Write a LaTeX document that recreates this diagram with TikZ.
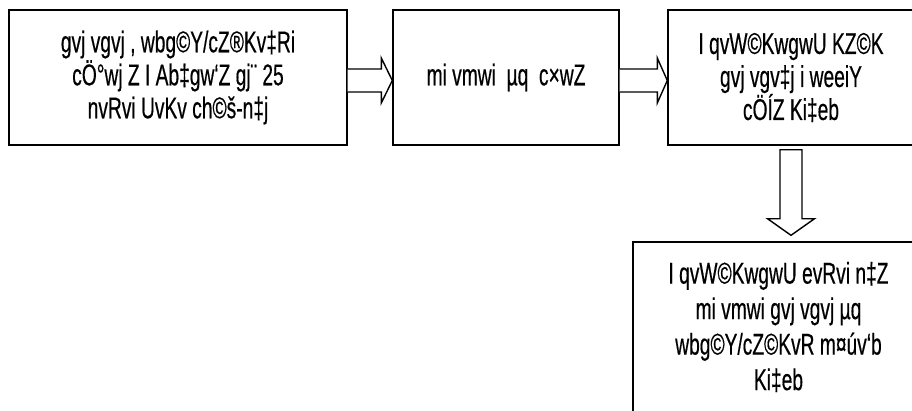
\documentclass[tikz,border=0pt]{standalone}
\usepackage{fontspec}
\setmainfont{Liberation Sans}[FakeStretch=0.64,FakeBold=0.4]
\usetikzlibrary{calc}
\begin{document}
\begin{tikzpicture}[x=1pt,y=-1pt,
  box/.style={draw,line width=1.4pt,rectangle,inner sep=0pt,align=center,font=\fontsize{30}{33}\selectfont},
  barrow/.style={draw,line width=1.4pt,fill=white,line join=miter}]
\useasboundingbox (0,0) rectangle (912,410);
\clip (0,0) rectangle (912,410);
\fill[white] (0,0) rectangle (912,410);
\node[box,minimum width=338,minimum height=135] (b1) at (178,77.5)
  {gvj vgvj , wbg©Y/cZ®Kv‡Ri\\cÖ°wj Z I Ab‡gw`Z gj¨ 25\\nvRvi UvKv ch©š-n‡j};
\node[box,minimum width=226,minimum height=135] (b2) at (506,77.5)
  {mi vmwi \ µq \ c×wZ};
\node[box,minimum width=246,minimum height=135] (b3) at (791,77.5)
  {I qvW©KwgwU KZ©K\\gvj vgv‡j i weeiY\\cÖÍZ Ki‡eb};
\node[box,minimum width=291,minimum height=170,font=\fontsize{30}{35.5}\selectfont] (b4) at (778.5,327)
  {I qvW©KwgwU evRvi n‡Z\\mi vmwi gvj vgvj µq\\wbg©Y/cZ©KvR m¤úv`b\\Ki‡eb};
\draw[barrow] ($(b1.east)+(0,-8.5)$) -- ($(b2.west)+(-11,-8.5)$) -- ($(b2.west)+(-11,-19.5)$)
  -- ($(b2.west)+(0,3)$) -- ($(b2.west)+(-11,25.5)$) -- ($(b2.west)+(-11,14.5)$) -- ($(b1.east)+(0,14.5)$);
\draw[barrow] ($(b2.east)+(0,-8.5)$) -- ($(b3.west)+(-10,-8.5)$) -- ($(b3.west)+(-10,-19.5)$)
  -- ($(b3.west)+(0,3)$) -- ($(b3.west)+(-10,25.5)$) -- ($(b3.west)+(-10,14.5)$) -- ($(b2.east)+(0,14.5)$);
\draw[barrow] ($(b3.south)+(-11,4)$) -- ($(b3.south)+(-11,73)$) -- ($(b3.south)+(-23.5,73)$)
  -- ($(b3.south |- b4.north)+(0,-6)$) -- ($(b3.south)+(23.5,73)$) -- ($(b3.south)+(11,73)$)
  -- ($(b3.south)+(11,4)$) -- cycle;
\end{tikzpicture}
\end{document}
